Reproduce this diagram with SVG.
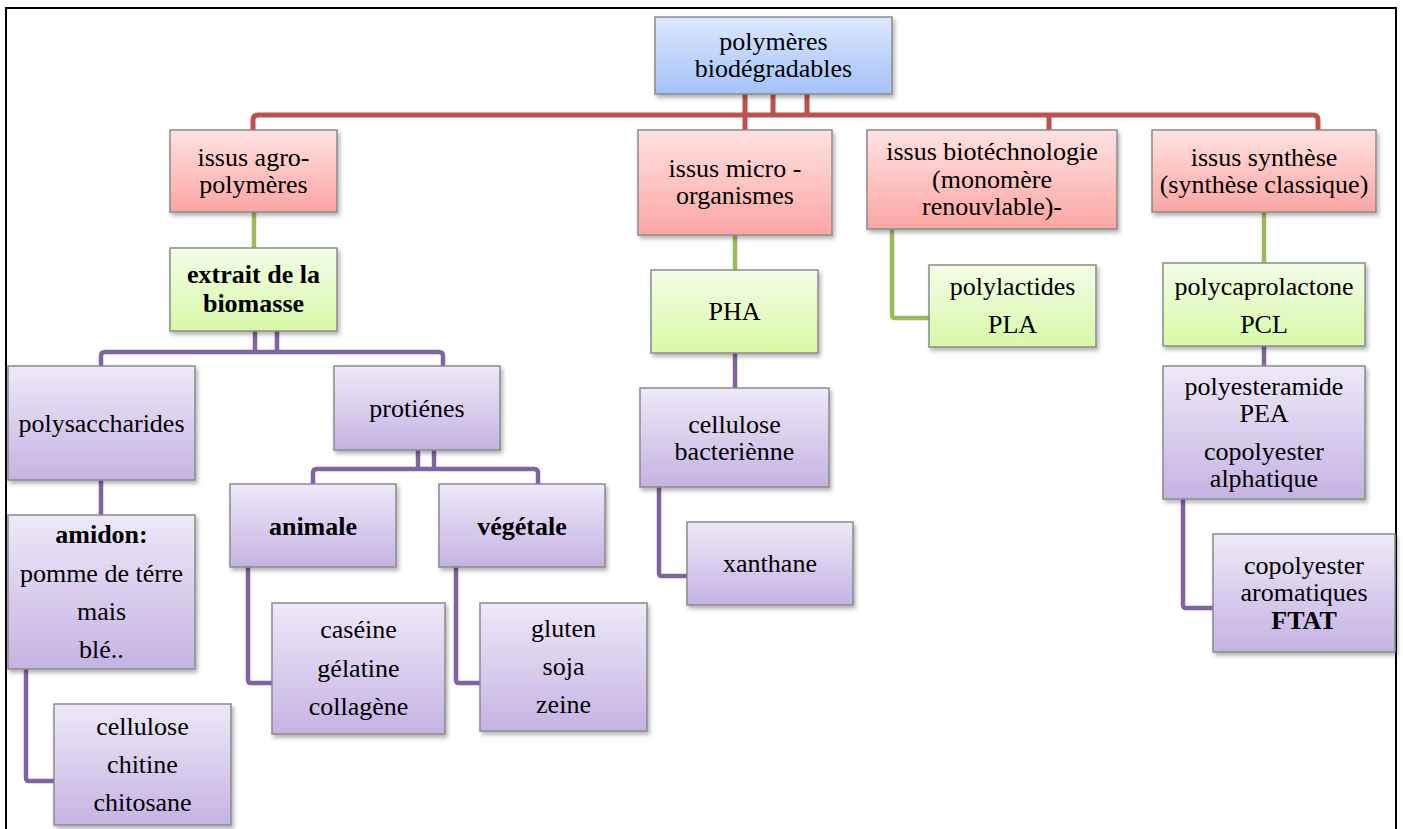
<svg xmlns="http://www.w3.org/2000/svg" width="1403" height="829" viewBox="0 0 1403 829">
<defs>
<linearGradient id="gBlue" x1="0" y1="0" x2="0" y2="1"><stop offset="0" stop-color="#dde8fc"/><stop offset="1" stop-color="#a3c2fa"/></linearGradient>
<linearGradient id="gRed" x1="0" y1="0" x2="0" y2="1"><stop offset="0" stop-color="#ffe2e2"/><stop offset="1" stop-color="#fba6a3"/></linearGradient>
<linearGradient id="gGreen" x1="0" y1="0" x2="0" y2="1"><stop offset="0" stop-color="#f4fde8"/><stop offset="1" stop-color="#d8f9a6"/></linearGradient>
<linearGradient id="gPurple" x1="0" y1="0" x2="0" y2="1"><stop offset="0" stop-color="#eee9f8"/><stop offset="1" stop-color="#c5b3e3"/></linearGradient>
<filter id="sh" x="-10%" y="-10%" width="130%" height="140%"><feDropShadow dx="2" dy="3" stdDeviation="2" flood-color="#000" flood-opacity="0.3"/></filter>
</defs>
<style>
.box{stroke:#8a8a8a;stroke-width:1.5;filter:url(#sh)}
.b{fill:url(#gBlue)}.r{fill:url(#gRed)}.g{fill:url(#gGreen)}.p{fill:url(#gPurple)}
text{font-size:26px;fill:#000;text-anchor:middle}
.bold{font-weight:bold}
.cr{fill:none;stroke:#c0504d;stroke-width:5}
.cg{fill:none;stroke:#9bbb59;stroke-width:4.5}
.cp{fill:none;stroke:#8064a2;stroke-width:4.5}
</style>
<rect width="1403" height="829" fill="#fff"/>
<path d="M6,829 V8 H1396 V829" fill="none" stroke="#000" stroke-width="2"/>
<g id="connectors">
<path class="cr" d="M253,130 V120 Q253,115 258,115 H1313 Q1318,115 1318,120 V130"/>
<path class="cr" d="M745,94 V130"/>
<path class="cr" d="M773,94 V115"/>
<path class="cr" d="M807,94 V115"/>
<path class="cr" d="M1049,115 V130"/>
<path class="cg" d="M254,212 V248"/>
<path class="cg" d="M735,235 V270"/>
<path class="cg" d="M892,229 V315 Q892,318 895,318 H929"/>
<path class="cg" d="M1264,212 V263"/>
<path class="cp" d="M255,331 V352 M277,331 V352"/>
<path class="cp" d="M101,366 V356 Q101,352 105,352 H439 Q443,352 443,356 V366"/>
<path class="cp" d="M418,450 V469 M434,450 V469"/>
<path class="cp" d="M313,484 V473 Q313,469 317,469 H534 Q538,469 538,473 V484"/>
<path class="cp" d="M101,480 V515"/>
<path class="cp" d="M26,669 V778 Q26,781 29,781 H54"/>
<path class="cp" d="M248,567 V680 Q248,683 251,683 H272"/>
<path class="cp" d="M456,567 V680 Q456,683 459,683 H480"/>
<path class="cp" d="M735,353 V388"/>
<path class="cp" d="M659,487 V573 Q659,576 662,576 H687"/>
<path class="cp" d="M1264,346 V366"/>
<path class="cp" d="M1183,499 V605 Q1183,608 1186,608 H1213"/>
</g>
<g font-family="Liberation Serif, Times New Roman, serif">
<g id="root"><rect class="box b" x="655" y="17" width="237" height="77"/><text x="773.5" y="50">polymères</text><text x="773.5" y="77">biodégradables</text></g>
<g id="agro"><rect class="box r" x="170" y="130" width="167" height="82"/><text x="253.5" y="166">issus agro-</text><text x="253.5" y="193">polymères</text></g>
<g id="micro"><rect class="box r" x="638" y="130" width="194" height="105"/><text x="735" y="177">issus micro -</text><text x="735" y="204">organismes</text></g>
<g id="biotech"><rect class="box r" x="867" y="130" width="250" height="99"/><text x="992" y="160">issus biotéchnologie</text><text x="992" y="188">(monomère</text><text x="992" y="215">renouvlable)-</text></g>
<g id="synth"><rect class="box r" x="1152" y="130" width="224" height="82"/><text x="1264" y="166">issus synthèse</text><text x="1264" y="193">(synthèse classique)</text></g>
<g id="extrait"><rect class="box g" x="170" y="248" width="167" height="83"/><text class="bold" x="253.5" y="283">extrait de la</text><text class="bold" x="253.5" y="312">biomasse</text></g>
<g id="pha"><rect class="box g" x="651" y="270" width="167" height="83"/><text x="734.5" y="320">PHA</text></g>
<g id="pla"><rect class="box g" x="929" y="265" width="167" height="82"/><text x="1012.5" y="295">polylactides</text><text x="1012.5" y="333">PLA</text></g>
<g id="pcl"><rect class="box g" x="1163" y="263" width="202" height="83"/><text x="1264" y="295">polycaprolactone</text><text x="1264" y="333">PCL</text></g>
<g id="polysacch"><rect class="box p" x="8" y="366" width="187" height="114"/><text x="101.5" y="432">polysaccharides</text></g>
<g id="proteines"><rect class="box p" x="334" y="366" width="166" height="84"/><text x="417" y="417">protiénes</text></g>
<g id="amidon"><rect class="box p" x="8" y="515" width="187" height="154"/><text class="bold" x="101.5" y="543">amidon:</text><text x="101.5" y="582">pomme de térre</text><text x="101.5" y="620">mais</text><text x="101.5" y="658">blé..</text></g>
<g id="animale"><rect class="box p" x="230" y="484" width="166" height="83"/><text class="bold" x="313" y="535">animale</text></g>
<g id="vegetale"><rect class="box p" x="439" y="484" width="166" height="83"/><text class="bold" x="522" y="535">végétale</text></g>
<g id="cellulose"><rect class="box p" x="54" y="704" width="177" height="121"/><text x="142.5" y="735">cellulose</text><text x="142.5" y="773">chitine</text><text x="142.5" y="811">chitosane</text></g>
<g id="caseine"><rect class="box p" x="272" y="603" width="173" height="131"/><text x="358.5" y="638">caséine</text><text x="358.5" y="677">gélatine</text><text x="358.5" y="715">collagène</text></g>
<g id="gluten"><rect class="box p" x="480" y="603" width="167" height="128"/><text x="563.5" y="637">gluten</text><text x="563.5" y="675">soja</text><text x="563.5" y="713">zeine</text></g>
<g id="cellbact"><rect class="box p" x="640" y="388" width="189" height="99"/><text x="734.5" y="433">cellulose</text><text x="734.5" y="460">bacteriènne</text></g>
<g id="xanthane"><rect class="box p" x="687" y="522" width="166" height="83"/><text x="770" y="572">xanthane</text></g>
<g id="pea"><rect class="box p" x="1163" y="366" width="202" height="133"/><text x="1264" y="395">polyesteramide</text><text x="1264" y="422">PEA</text><text x="1264" y="460">copolyester</text><text x="1264" y="487">alphatique</text></g>
<g id="ftat"><rect class="box p" x="1213" y="534" width="182" height="118"/><text x="1304" y="574">copolyester</text><text x="1304" y="601">aromatiques</text><text class="bold" x="1304" y="629">FTAT</text></g>
</g>
</svg>
